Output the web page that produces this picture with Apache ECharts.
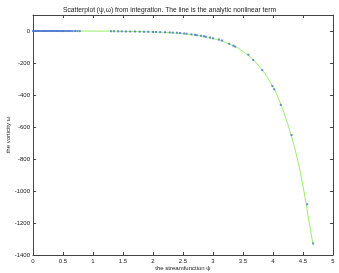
<!DOCTYPE html>
<html><head><meta charset="utf-8">
<script src="https://cdn.jsdelivr.net/npm/echarts@6/dist/echarts.min.js"></script>
<style>html,body{margin:0;padding:0;background:#fff}#c{width:339px;height:273px}</style>
</head><body><div id="c"></div>
<script>
const titleText = 'Scatterplot (\u03c8,\u03c9) from integration. The line is the analytic nonlinear term';
const xLabel = 'the streamfunction \u03c8';
const yLabel = 'the vorticity \u03c9';
const xTicks = [0,0.5,1,1.5,2,2.5,3,3.5,4,4.5,5];
const yTicks = [-1400,-1200,-1000,-800,-600,-400,-200,0];

// scatter (psi, omega)
const scatterPsi = [0.00,0.02,0.04,0.06,0.08,0.10,0.12,0.14,0.16,0.18,0.20,0.22,0.24,0.26,0.28,0.30,0.32,0.34,0.36,0.38,0.40,0.42,0.44,0.46,0.48,0.50,0.52,0.55,0.58,0.60,0.63,0.66,0.70,0.74,0.78,
  1.30,1.35,1.42,1.48,1.55,1.62,1.70,1.78,1.85,1.92,2.00,2.05,2.12,2.20,2.28,2.33,2.40,2.45,2.52,2.56,2.64,2.70,2.73,2.80,2.85,2.88,2.95,3.00,3.10,3.15,
  3.27,3.34,3.37,3.59,3.67,3.82,3.99,4.02,4.13,4.31,4.57,4.67];
const scatterOmega = [0,-0.1,0,-0.1,0,-0.1,0,0,-0.1,0,-0.1,0,-0.1,0,-0.2,0,-0.1,-0.2,0,-0.2,-0.1,-0.2,0,-0.2,-0.3,-0.2,-0.3,-0.2,-0.3,-0.4,-0.3,-0.4,-0.4,-0.5,-0.6,
  -1.8,-2,-2.2,-2.5,-2.8,-3,-3.5,-4,-4.3,-5,-5.5,-6,-7,-8,-9,-10,-11,-13,-15,-17,-21,-24,-26,-30,-33,-36,-40,-46,-53,-60,
  -80,-92,-98,-148,-181,-244,-344,-364,-462,-650,-1083,-1327];

// analytic curve
const linePsi = [0,0.5,1,1.5,2,2.25,2.5,2.75,3,3.25,3.5,3.75,4,4.1,4.2,4.3,4.4,4.5,4.6,4.67];
const lineOmega = [0,-0.2,-0.7,-2.2,-6.3,-10,-17,-29,-47,-78,-128,-212,-350,-430,-530,-650,-790,-970,-1190,-1340];

const scatterData = scatterPsi.map((p,i)=>[p,scatterOmega[i]]);
const lineData = linePsi.map((p,i)=>[p,lineOmega[i]]);

const font = 'Liberation Sans, Arial, sans-serif';
const axCol = '#444';
const txtCol = '#222';
const fmt = v => String(v);

const chart = echarts.init(document.getElementById('c'));
chart.setOption({
  animation:false,
  backgroundColor:'#fff',
  title:{text:titleText,left:'center',top:2,textStyle:{fontSize:6.7,fontWeight:'normal',color:txtCol,fontFamily:font}},
  grid:{left:33,right:6,top:15,bottom:18,containLabel:false,outerBoundsMode:'none'},
  xAxis:[{
    type:'value',min:0,max:5,interval:0.5,position:'bottom',
    name:xLabel,nameLocation:'middle',nameGap:10,nameMoveOverlap:false,
    nameTextStyle:{fontSize:6,color:txtCol,fontFamily:font,verticalAlign:'top'},
    axisLine:{onZero:false,lineStyle:{color:axCol,width:1}},
    axisTick:{inside:true,length:3,lineStyle:{color:axCol}},
    axisLabel:{fontSize:6,color:txtCol,margin:3,fontFamily:font,formatter:fmt},
    splitLine:{show:false}
  },{
    type:'value',min:0,max:5,interval:0.5,position:'top',
    axisLine:{onZero:false,lineStyle:{color:axCol,width:1}},
    axisTick:{inside:true,length:3,lineStyle:{color:axCol}},
    axisLabel:{show:false},splitLine:{show:false}
  }],
  yAxis:[{
    type:'value',min:-1400,max:100,interval:200,position:'left',
    name:yLabel,nameLocation:'middle',nameGap:25,nameMoveOverlap:false,
    nameTextStyle:{fontSize:6,color:txtCol,fontFamily:font,verticalAlign:'middle'},
    axisLine:{show:true,onZero:false,lineStyle:{color:axCol,width:1}},
    axisTick:{show:true,inside:true,length:3,lineStyle:{color:axCol}},
    axisLabel:{fontSize:6,color:txtCol,margin:3,fontFamily:font,showMaxLabel:false,
      formatter:v=> yTicks.indexOf(v)>=0 ? String(v) : ''},
    splitLine:{show:false}
  },{
    type:'value',min:-1400,max:100,interval:200,position:'right',
    axisLine:{show:true,onZero:false,lineStyle:{color:axCol,width:1}},
    axisTick:{show:true,inside:true,length:3,lineStyle:{color:axCol}},
    axisLabel:{show:false},splitLine:{show:false}
  }],
  series:[{
    type:'line',data:lineData,smooth:true,showSymbol:false,
    lineStyle:{color:'#99ee66',width:1},z:2
  },{
    type:'scatter',data:scatterData,symbol:'rect',symbolSize:2,
    itemStyle:{color:'#4a72d8'},z:3
  }]
});
</script></body></html>
